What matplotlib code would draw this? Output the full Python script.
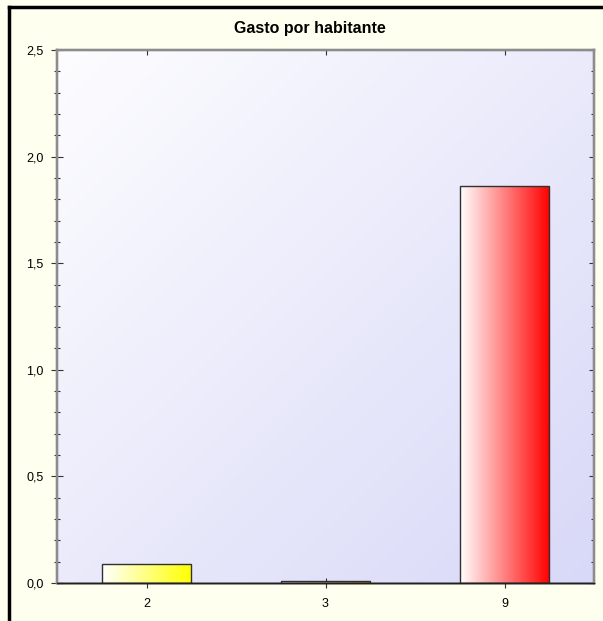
import matplotlib
matplotlib.use("Agg")
import matplotlib.pyplot as plt
import numpy as np
from matplotlib.lines import Line2D
from matplotlib.ticker import MultipleLocator, FuncFormatter

# data
categories = ["2", "3", "9"]
values = [0.09, 0.01, 1.86]
bar_colors = ["#FFFF00", "#FF8C00", "#FF0000"]
title = "Gasto por habitante"

plt.rcParams["font.family"] = ["Liberation Sans", "DejaVu Sans"]

W, H = 603, 621
fig = plt.figure(figsize=(W / 100, H / 100), dpi=100, facecolor="#FFFFF0")
ax = fig.add_axes([57 / W, (H - 583) / H, (594 - 57) / W, (583 - 50) / H])

x = np.arange(len(categories))
xlim = (-0.5, len(categories) - 0.5)
ylim = (0, 2.5)

# diagonal gradient background of the plot area (white top-left -> lavender bottom-right)
gx, gy = np.meshgrid(np.linspace(0, 1, 200), np.linspace(0, 1, 200))
t = (gx + gy) / 2
c0 = np.array([253, 253, 255]) / 255
c1 = np.array([216, 216, 248]) / 255
bg = c0[None, None, :] * (1 - t[..., None]) + c1[None, None, :] * t[..., None]
ax.imshow(bg, extent=[xlim[0], xlim[1], ylim[0], ylim[1]], origin="upper",
          aspect="auto", zorder=0, interpolation="bilinear")

# bars with horizontal white -> colour gradient
bars = ax.bar(x, values, width=0.5, facecolor="none", edgecolor="#303030",
              linewidth=1, zorder=3)
ramp = np.linspace(0, 1, 256)
for bar, col in zip(bars, bar_colors):
    rgb = np.array(matplotlib.colors.to_rgb(col))
    grad = np.ones((1, 256, 3)) * (1 - ramp[None, :, None]) + rgb * ramp[None, :, None]
    x0, y0 = bar.get_x(), bar.get_y()
    im = ax.imshow(grad, extent=[x0, x0 + bar.get_width(), y0, y0 + bar.get_height()],
                   aspect="auto", zorder=2, interpolation="bilinear")
    im.set_clip_path(bar)
ax.set_xlim(*xlim)
ax.set_ylim(*ylim)

fmt = FuncFormatter(lambda v, p: f"{v:.1f}".replace(".", ","))
ax.set_xticks(x)
ax.set_xticklabels(categories)
ax.yaxis.set_major_locator(MultipleLocator(0.5))
ax.yaxis.set_minor_locator(MultipleLocator(0.1))
ax.yaxis.set_major_formatter(fmt)

tick_col = "#333333"
ax.tick_params(axis="y", which="major", direction="inout", length=8.5, width=0.8,
               labelsize=9, color=tick_col, pad=5.5)
ax.tick_params(axis="y", which="minor", direction="inout", length=4.3, width=0.8,
               color=tick_col)
ax.tick_params(axis="x", which="major", direction="inout", length=7, width=0.8,
               labelsize=9, pad=7, color=tick_col)

# right and top axes carry short inward ticks only
axr = ax.twinx()
axr.set_ylim(*ylim)
axr.yaxis.set_major_locator(MultipleLocator(0.5))
axr.yaxis.set_minor_locator(MultipleLocator(0.1))
axr.tick_params(axis="y", which="major", direction="in", length=3.6, width=0.8,
                labelright=False, color=tick_col)
axr.tick_params(axis="y", which="minor", direction="in", length=2.2, width=0.8,
                color=tick_col)
axt = ax.twiny()
axt.set_xlim(*xlim)
axt.set_xticks(x)
axt.tick_params(axis="x", direction="in", length=3.6, width=0.8,
                labeltop=False, color=tick_col)

for a in (ax, axr, axt):
    for side in ["left", "right", "top"]:
        a.spines[side].set_color("#8c8c8c")
        a.spines[side].set_linewidth(1.6)
    a.spines["bottom"].set_color("#202020")
    a.spines["bottom"].set_linewidth(1)

fig.text(310 / W, 1 - 29 / H, title, ha="center", va="center",
         fontsize=11.5, fontweight="bold")

# black frame on the left and top of the figure
fig.add_artist(Line2D([9 / W, 9 / W], [0, 1 - 7 / H], color="black", linewidth=2.5,
                      transform=fig.transFigure))
fig.add_artist(Line2D([9 / W, 1], [1 - 7 / H, 1 - 7 / H], color="black", linewidth=2.5,
                      transform=fig.transFigure))

fig.savefig("out.png", dpi=100, facecolor=fig.get_facecolor())
